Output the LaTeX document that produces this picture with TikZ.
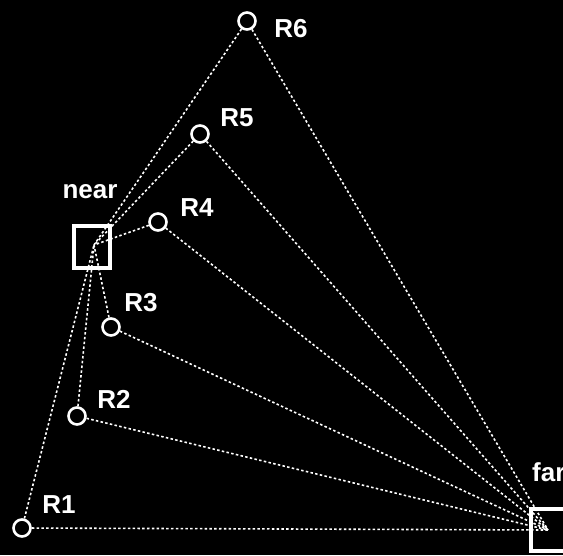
\documentclass[tikz,border=0pt]{standalone}
\usepackage{fontspec}
\setmainfont{Liberation Sans}
\begin{document}
\begin{tikzpicture}[x=1pt,y=-1pt,
  rnode/.style={circle,draw=white,line width=2.6pt,minimum size=17pt,inner sep=0pt},
  boxnode/.style={rectangle,draw=white,line width=3.6pt,minimum width=36pt,minimum height=42pt,inner sep=0pt},
  lbl/.style={text=white,font=\bfseries\fontsize{26}{26}\selectfont,inner sep=0pt},
  link/.style={white,line width=1.6pt,dash pattern=on 2.5pt off 2.3pt}]
\useasboundingbox (0,0) rectangle (563,555);
\clip (0,0) rectangle (563,555);
\fill[black] (0,0) rectangle (563,555);
\node[boxnode] (near) at (92,247) {};
\node[boxnode] (far) at (549,530) {};
\coordinate (np) at (94,245);
\coordinate (fp) at (548,530);
\node[rnode] (R1) at (22,528) {};
\node[rnode] (R2) at (77,416) {};
\node[rnode] (R3) at (111,327) {};
\node[rnode] (R4) at (158,222) {};
\node[rnode] (R5) at (200,134) {};
\node[rnode] (R6) at (247,21) {};
\foreach \r in {R1,R2,R3,R4,R5,R6}{
  \draw[link] (\r) -- (np);
  \draw[link] (\r) -- (fp);
}
\node[lbl] (t1) at (59,505) {R1};
\node[lbl] (t2) at (114,399) {R2};
\node[lbl] (t3) at (141,303) {R3};
\node[lbl] (t4) at (197,208) {R4};
\node[lbl] (t5) at (237,118) {R5};
\node[lbl] (t6) at (291,29) {R6};
\node[lbl] (tn) at (90,192) {near};
\node[lbl,anchor=west] (tf) at (532,472) {far};
\end{tikzpicture}
\end{document}
